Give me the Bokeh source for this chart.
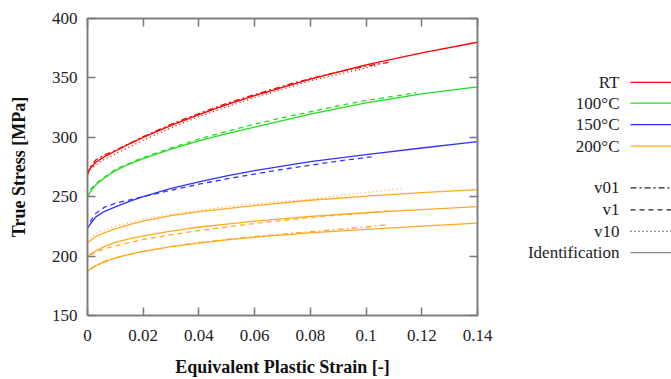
from bokeh.plotting import figure
from bokeh.layouts import row
from bokeh.models import FixedTicker, LinearAxis, Range1d
from bokeh.core.properties import value
from bokeh.embed import file_html
from bokeh.resources import INLINE

# ---------------- data ----------------
strain_id = [0, 0.001, 0.003, 0.006, 0.01, 0.015, 0.02, 0.03, 0.04, 0.05, 0.06, 0.08, 0.1, 0.12, 0.14]
rt_id    = [270, 274, 279, 283.5, 288.5, 294.5, 300, 310, 319, 327.5, 335, 349, 361, 371, 380]
c100_id  = [250, 254, 260, 265.5, 272, 277.5, 282, 290, 297, 303, 308.5, 319.5, 329, 336.5, 342.5]
c150_id  = [223.5, 227, 233, 237.5, 241.5, 246, 250, 257, 262.5, 267.5, 272, 279.5, 285.5, 291, 296.3]
c200a_id = [211, 213, 216.5, 219.5, 223, 226.5, 229.5, 234, 237.5, 240, 242.5, 247, 250.5, 253.5, 256]
c200b_id = [199.5, 201.5, 204.5, 208, 211.5, 214.5, 217, 221, 224.5, 227, 229.5, 233.5, 236.5, 239.2, 241.6]
c200c_id = [187, 189, 192, 195, 198.5, 201.5, 204, 208, 211, 213.7, 216, 219.5, 222.5, 225.2, 227.7]

rt_v01_x = [0.0, 0.001, 0.003, 0.006, 0.01, 0.02, 0.03, 0.04, 0.05, 0.06, 0.07, 0.08, 0.09, 0.1, 0.108]
rt_v01_y = [268, 275, 281, 285, 289, 300.5, 311, 320, 328.5, 336, 343, 349.5, 355, 360, 363]
rt_v10_x = [0.001, 0.005, 0.01, 0.02, 0.03, 0.04, 0.06, 0.08, 0.1, 0.104]
rt_v10_y = [273, 280, 286, 297.5, 308, 317.5, 333.5, 347.5, 358.5, 360.5]

c100_v1_x = [0.001, 0.004, 0.01, 0.02, 0.03, 0.04, 0.05, 0.06, 0.07, 0.08, 0.09, 0.1, 0.11, 0.118]
c100_v1_y = [256, 263, 273, 283, 291, 298.5, 305, 311, 316.5, 321.5, 326.5, 331, 334.5, 337.5]

c150_v1_x = [0.001, 0.003, 0.006, 0.01, 0.02, 0.03, 0.04, 0.05, 0.06, 0.07, 0.08, 0.09, 0.1, 0.102]
c150_v1_y = [229, 236, 241, 244.5, 250, 255.5, 260.5, 265, 269, 273, 276.5, 280, 283, 283.5]

c200a_v10_x = [0.001, 0.003, 0.006, 0.01, 0.02, 0.03, 0.04, 0.05, 0.06, 0.07, 0.08, 0.09, 0.1, 0.113]
c200a_v10_y = [215, 219, 222, 225, 231, 235, 238.5, 241.5, 244, 246, 248, 250.8, 253.5, 257]

c200b_v1_x = [0.001, 0.003, 0.006, 0.01, 0.02, 0.03, 0.04, 0.05, 0.06, 0.07, 0.08, 0.09, 0.1, 0.108]
c200b_v1_y = [201, 203.5, 206, 208.5, 214, 218, 221.5, 224.5, 227.5, 230, 232.5, 234.5, 236.3, 238]

c200c_v01_x = [0.001, 0.003, 0.006, 0.01, 0.02, 0.03, 0.04, 0.05, 0.06, 0.07, 0.08, 0.09, 0.1, 0.108]
c200c_v01_y = [189, 192, 195.5, 198.5, 204, 208, 211.5, 214, 216.5, 218.5, 220.5, 222.5, 224.5, 226.5]

x_ticks = [0, 0.02, 0.04, 0.06, 0.08, 0.1, 0.12, 0.14]
x_tick_labels = ["0", "0.02", "0.04", "0.06", "0.08", "0.1", "0.12", "0.14"]
y_ticks = [150, 200, 250, 300, 350, 400]

temp_labels = ["RT", "100°C", "150°C", "200°C"]
style_labels = ["v01", "v1", "v10", "Identification"]

# ---------------- styles ----------------
RED, GREEN, BLUE, ORANGE = "#ff0000", "#22dd22", "#3333ff", "#ffaa22"
DASH = {"v01": "6 3 2 3", "v1": "5 4", "v10": "1 3", "Identification": "solid"}
FONT = "Liberation Serif"
FRAME = "#7a7a7a"

p = figure(width=500, height=379, output_backend="svg", toolbar_location=None,
           x_range=Range1d(0, 0.14), y_range=Range1d(150, 400),
           min_border_left=87, min_border_right=23, min_border_top=18, min_border_bottom=63)
p.xgrid.visible = False
p.ygrid.visible = False
p.outline_line_color = FRAME
p.outline_line_width = 1.5
p.background_fill_color = "white"
p.border_fill_color = "white"

def style_axis(ax, ticks, show_labels):
    ax.ticker = FixedTicker(ticks=ticks)
    ax.axis_line_color = FRAME
    ax.axis_line_width = 1.5
    ax.major_tick_line_color = FRAME
    ax.major_tick_line_width = 1.5
    ax.major_tick_in = 8
    ax.major_tick_out = 0
    ax.minor_tick_line_color = None
    ax.major_label_text_font = FONT
    ax.major_label_text_color = "#222222"
    if show_labels:
        ax.major_label_text_font_size = "17px"
    else:
        ax.major_label_text_font_size = "0px"
        ax.major_label_standoff = 0

style_axis(p.xaxis[0], x_ticks, True)
style_axis(p.yaxis[0], y_ticks, True)
p.xaxis[0].major_label_overrides = {t: l for t, l in zip(x_ticks, x_tick_labels)}
p.xaxis[0].major_label_standoff = 14
p.yaxis[0].major_label_standoff = 10
p.xaxis.axis_label = "Equivalent Plastic Strain [-]"
p.yaxis.axis_label = "True Stress [MPa]"
for ax in (p.xaxis[0], p.yaxis[0]):
    ax.axis_label_text_font = FONT
    ax.axis_label_text_font_style = "bold"
    ax.axis_label_text_font_size = "18px"
    ax.axis_label_text_color = "#111111"
p.xaxis[0].axis_label_standoff = 13
p.yaxis[0].axis_label_standoff = 20

top = LinearAxis()
right = LinearAxis()
style_axis(top, x_ticks, False)
style_axis(right, y_ticks, False)
top.major_label_overrides = {t: "" for t in x_ticks}
right.major_label_overrides = {t: "" for t in y_ticks}
p.add_layout(top, "above")
p.add_layout(right, "right")

# identification curves
for ys, c in [(rt_id, RED), (c100_id, GREEN), (c150_id, BLUE),
              (c200a_id, ORANGE), (c200b_id, ORANGE), (c200c_id, ORANGE)]:
    p.line(strain_id, ys, line_color=c, line_width=1.3)

# experimental curves
for xs, ys, c, key in [(rt_v01_x, rt_v01_y, RED, "v01"), (rt_v10_x, rt_v10_y, RED, "v10"),
                       (c100_v1_x, c100_v1_y, GREEN, "v1"), (c150_v1_x, c150_v1_y, BLUE, "v1"),
                       (c200a_v10_x, c200a_v10_y, ORANGE, "v10"), (c200b_v1_x, c200b_v1_y, ORANGE, "v1"),
                       (c200c_v01_x, c200c_v01_y, ORANGE, "v01")]:
    p.line(xs, ys, line_color=c, line_width=1.3, line_dash=DASH[key])

# ---------------- legend panel (page-pixel coordinates; frame aligned to main frame) ----------------
leg = figure(width=171, height=379, output_backend="svg", toolbar_location=None,
             x_range=Range1d(0, 171), y_range=Range1d(316, 18),
             min_border=0, min_border_left=0, min_border_right=0, min_border_top=18, min_border_bottom=63)
leg.axis.visible = False
leg.grid.visible = False
leg.outline_line_color = None

rows_y = [82, 103, 124.5, 146, 188, 210, 231.5, 253]
colors = [RED, GREEN, BLUE, ORANGE]
labels = temp_labels + style_labels
for i, lab in enumerate(labels):
    y = rows_y[i]
    leg.text(x=[119], y=[y], text=[lab], text_align="right", text_baseline="middle",
             text_font=value(FONT), text_font_size="17px", text_color="#222222")
    if i < 4:
        leg.line([130, 175], [y, y], line_color=colors[i], line_width=1.3)
    else:
        key = style_labels[i - 4]
        col = "#888888" if key == "Identification" else "#222222"
        leg.line([130, 175], [y, y], line_color=col, line_width=1.3, line_dash=DASH[key])

layout = row(p, leg, spacing=0)
open("out.html", "w").write(file_html(layout, INLINE))
